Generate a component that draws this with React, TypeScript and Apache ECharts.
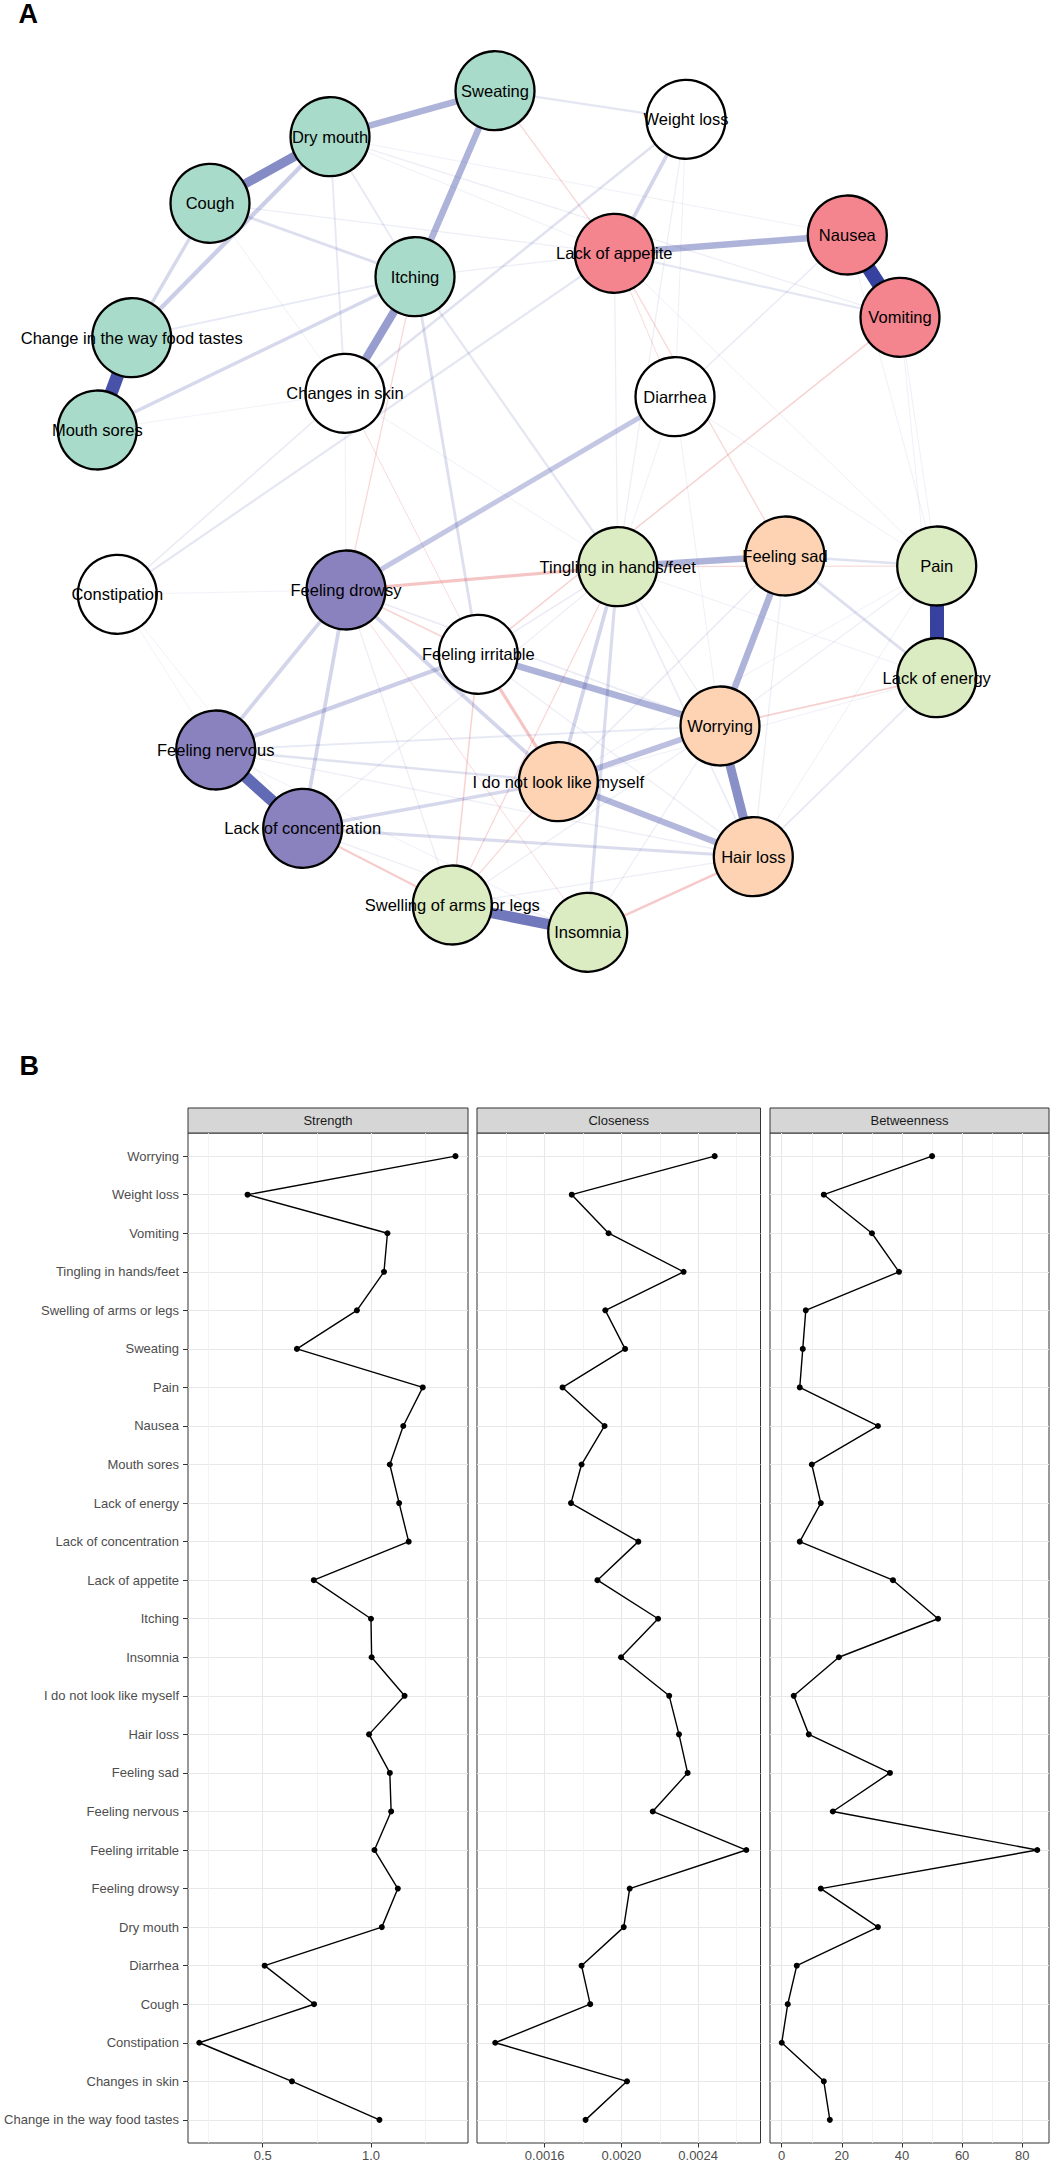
import React, { useEffect, useRef } from "react";
import * as echarts from "echarts";

const FONT = "'Liberation Sans', Arial, Helvetica, sans-serif";

// ---------- Panel A : network ----------
const nodeNames = [
  "Sweating", "Weight loss", "Dry mouth", "Cough", "Lack of appetite", "Nausea",
  "Vomiting", "Itching", "Change in the way food tastes", "Changes in skin", "Diarrhea",
  "Mouth sores", "Constipation", "Feeling drowsy", "Tingling in hands/feet", "Feeling sad",
  "Pain", "Feeling irritable", "Lack of energy", "Worrying", "Feeling nervous",
  "I do not look like myself", "Lack of concentration", "Hair loss",
  "Swelling of arms or legs", "Insomnia",
];
// layout coordinates of the network (qgraph layout)
const nodeX = [495, 686, 330, 210, 614.3, 847.3, 900, 415, 131.7, 345, 675, 97.3, 117.3, 346, 617.7, 785, 936.7, 478.3, 936.7, 720, 215.7, 558.3, 302.7, 753.3, 452.3, 587.7];
const nodeY = [90.7, 119.3, 136.7, 203.3, 253.3, 235, 317.3, 276.7, 337.7, 393.3, 396.7, 430, 594.3, 590, 566.7, 556, 566, 654.3, 677.7, 726, 750, 781.7, 828.3, 856.7, 905, 932.3];
const nodeGroup = [
  "oral", "none", "oral", "oral", "gi", "gi", "gi", "oral", "oral", "none", "none",
  "oral", "none", "cog", "phys", "emo", "phys", "none", "phys", "emo", "cog",
  "emo", "cog", "emo", "phys", "phys",
];
// [from, to, partial correlation]
const edges: [number, number, number][] = [
  [5, 6, 0.45], [16, 18, 0.45], [8, 11, 0.42], [20, 22, 0.37], [24, 25, 0.34],
  [2, 3, 0.30], [19, 23, 0.29], [7, 9, 0.26], [0, 7, 0.21], [0, 2, 0.21],
  [4, 5, 0.21], [14, 15, 0.21], [15, 19, 0.21], [17, 19, 0.21], [21, 23, 0.20],
  [19, 21, 0.18], [10, 13, 0.16], [17, 20, 0.14], [2, 8, 0.14], [1, 4, 0.12],
  [13, 21, 0.12], [13, 20, 0.12], [13, 22, 0.12], [14, 21, 0.12], [3, 8, 0.11],
  [7, 11, 0.11], [21, 22, 0.11], [22, 23, 0.10], [14, 25, 0.10], [7, 17, 0.09],
  [3, 7, 0.09], [15, 18, 0.09], [1, 9, 0.08], [15, 16, 0.08], [20, 21, 0.08],
  [4, 12, 0.07], [7, 14, 0.07], [4, 6, 0.07], [0, 1, 0.07], [2, 9, 0.06],
  [2, 7, 0.06], [18, 23, 0.06], [19, 20, 0.06], [7, 8, 0.06], [9, 12, 0.05],
  [5, 10, 0.05], [15, 21, 0.05], [13, 19, 0.05], [14, 23, 0.05], [14, 17, 0.05],
  [3, 4, 0.04], [2, 6, 0.04], [4, 7, 0.04], [4, 14, 0.04], [1, 14, 0.04],
  [16, 19, 0.04], [15, 23, 0.04], [23, 24, 0.04], [13, 24, 0.04], [22, 25, 0.04],
  [19, 24, 0.04], [19, 25, 0.04], [20, 23, 0.04], [14, 22, 0.04], [14, 19, 0.04],
  [17, 23, 0.04], [4, 16, 0.03], [10, 16, 0.03], [6, 18, 0.03], [16, 21, 0.03],
  [10, 14, 0.03], [10, 19, 0.03], [20, 25, 0.03], [9, 13, 0.03], [9, 14, 0.03],
  [2, 4, 0.03], [3, 9, 0.03], [9, 11, 0.02], [12, 20, 0.02], [12, 22, 0.02],
  [12, 13, 0.02], [18, 21, 0.03], [14, 18, 0.03], [16, 23, 0.03], [5, 16, 0.03],
  [6, 16, 0.03], [2, 5, 0.03], [1, 10, 0.03],
  [13, 14, -0.10], [17, 21, -0.10], [23, 25, -0.08], [22, 24, -0.07], [6, 17, -0.05],
  [18, 19, -0.06], [0, 4, -0.04], [4, 15, -0.04], [13, 17, -0.05], [14, 16, -0.04],
  [7, 13, -0.04], [17, 24, -0.05], [4, 10, -0.03], [14, 24, -0.04], [13, 25, -0.03],
  [9, 17, -0.03], [21, 24, -0.04],
];

// ---------- Panel B : centrality ----------
const categories = [
  "Worrying", "Weight loss", "Vomiting", "Tingling in hands/feet", "Swelling of arms or legs",
  "Sweating", "Pain", "Nausea", "Mouth sores", "Lack of energy", "Lack of concentration",
  "Lack of appetite", "Itching", "Insomnia", "I do not look like myself", "Hair loss",
  "Feeling sad", "Feeling nervous", "Feeling irritable", "Feeling drowsy", "Dry mouth",
  "Diarrhea", "Cough", "Constipation", "Changes in skin", "Change in the way food tastes",
];
const strength = [1.39, 0.43, 1.076, 1.06, 0.935, 0.658, 1.239, 1.149, 1.087, 1.13, 1.174, 0.736, 1.0, 1.003, 1.155, 0.991, 1.087, 1.093, 1.016, 1.124, 1.05, 0.509, 0.737, 0.207, 0.635, 1.039];
const closeness = [0.002486, 0.001741, 0.001933, 0.002324, 0.001916, 0.002019, 0.001693, 0.001912, 0.001792, 0.001737, 0.002088, 0.001875, 0.002191, 0.001998, 0.002249, 0.0023, 0.002345, 0.002163, 0.002651, 0.002043, 0.002012, 0.001792, 0.001837, 0.001342, 0.002029, 0.001813];
const betweenness = [50, 14, 30, 39, 8, 7, 6, 32, 10, 13, 6, 37, 52, 19, 4, 9, 36, 17, 85, 13, 32, 5, 2, 0, 14, 16];

const facetTitles = ["Strength", "Closeness", "Betweenness"];
const strengthTicks = [0.5, 1.0];
const strengthMinor = [0.25, 0.75, 1.25];
const closenessTicks = [0.0016, 0.002, 0.0024];
const closenessMinor = [0.0014, 0.0018, 0.0022, 0.0026];
const betweennessTicks = [0, 20, 40, 60, 80];
const betweennessMinor = [10, 30, 50, 70];

const groupColor: Record<string, string> = {
  oral: "#A8DBC9",
  gi: "#F4858F",
  cog: "#8A82BE",
  phys: "#DBEBC2",
  emo: "#FDD3B4",
  none: "#FFFFFF",
};

export default function App() {
  const ref = useRef<HTMLDivElement>(null);

  useEffect(() => {
    if (!ref.current) return;
    const chart = echarts.init(ref.current, undefined, { renderer: "svg" });

    const sorted = [...edges].sort((a, b) => Math.abs(a[2]) - Math.abs(b[2]));
    const links = sorted.map(([s, t, w]) => {
      const a = Math.abs(w) / 0.45;
      const width = Math.max(1, 14 * a);
      const alpha = w > 0 ? Math.min(1, 0.05 + 0.95 * Math.pow(a, 1.3)) : Math.min(1, 0.18 + 0.9 * a);
      const color = w > 0 ? `rgba(55,66,160,${alpha.toFixed(3)})` : `rgba(228,100,100,${alpha.toFixed(3)})`;
      return { source: s, target: t, lineStyle: { width, color, opacity: 1, curveness: 0 } };
    });

    const nodes = nodeNames.map((n, i) => ({
      name: n,
      value: [nodeX[i], nodeY[i]],
      itemStyle: { color: groupColor[nodeGroup[i]], borderColor: "#000", borderWidth: 2.3 },
    }));

    // facet layout
    const fTop = 1133;
    const fHeight = 1010;
    const fLeft = [188, 477, 770];
    const fWidth = [280, 283.5, 279];
    const ranges: [number, number][] = [[0.155, 1.448], [0.001247, 0.002725], [-3.9, 88.9]];
    const majors = [strengthTicks, closenessTicks, betweennessTicks];
    const minors = [strengthMinor, closenessMinor, betweennessMinor];
    const fmts = [
      (v: number) => v.toFixed(1),
      (v: number) => v.toFixed(4),
      (v: number) => String(Math.round(v)),
    ];
    const values = [strength, closeness, betweenness];
    const idx = categories.map((_, i) => i);

    const grids: any[] = [{ left: 0, top: 0, width: 1056, height: 1050, show: false }];
    const xAxes: any[] = [{ type: "value", gridIndex: 0, min: 0, max: 1056, show: false, axisLine: { onZero: false } }];
    const yAxes: any[] = [{ type: "value", gridIndex: 0, min: 0, max: 1050, inverse: true, show: false, axisLine: { onZero: false } }];
    const series: any[] = [
      {
        type: "graph",
        coordinateSystem: "cartesian2d",
        xAxisIndex: 0,
        yAxisIndex: 0,
        silent: true,
        emphasis: { disabled: true },
        symbol: "circle",
        symbolSize: 79,
        edgeSymbol: ["none", "none"],
        label: { show: true, position: "inside", color: "#000", fontSize: 16.5, fontFamily: FONT },
        lineStyle: { opacity: 1, curveness: 0 },
        data: nodes,
        links,
        z: 2,
      },
    ];
    const graphics: any[] = [
      { type: "text", x: 18.5, y: 14, style: { text: "A", font: `bold 27px ${FONT}`, fill: "#000", textAlign: "left", textVerticalAlign: "middle" } },
      { type: "text", x: 19.5, y: 1065.5, style: { text: "B", font: `bold 27px ${FONT}`, fill: "#000", textAlign: "left", textVerticalAlign: "middle" } },
    ];

    for (let f = 0; f < 3; f++) {
      const gi = f + 1;
      grids.push({
        left: fLeft[f], top: fTop, width: fWidth[f], height: fHeight,
        show: true, borderColor: "#333333", borderWidth: 1, backgroundColor: "#FFFFFF",
      });
      const majorIdx = xAxes.length;
      xAxes.push({
        type: "value", gridIndex: gi, min: ranges[f][0], max: ranges[f][1], position: "bottom",
        axisLine: { show: false, onZero: false },
        axisTick: { show: true, length: 4.5, customValues: majors[f], lineStyle: { color: "#333333", width: 1 } },
        axisLabel: {
          show: true, customValues: majors[f], formatter: fmts[f], color: "#4D4D4D",
          fontSize: 13, fontFamily: FONT, margin: 6,
        },
        splitLine: { show: true, lineStyle: { color: "#E8E8E8", width: 1.1 } },
      });
      xAxes.push({
        type: "value", gridIndex: gi, min: ranges[f][0], max: ranges[f][1], position: "top",
        axisLine: { show: false, onZero: false },
        axisTick: { show: false, customValues: minors[f] },
        axisLabel: { show: false },
        splitLine: { show: true, lineStyle: { color: "#F0F0F0", width: 0.8 } },
      });
      const yi = yAxes.length;
      yAxes.push({
        type: "value", gridIndex: gi, min: -0.6, max: 25.6, inverse: true, position: "left",
        axisLine: { show: false, onZero: false },
        axisTick: { show: f === 0, length: 5, customValues: idx, lineStyle: { color: "#333333", width: 1 } },
        axisLabel: {
          show: f === 0, customValues: idx, formatter: (v: number) => categories[Math.round(v)] ?? "",
          color: "#4D4D4D", fontSize: 13, fontFamily: FONT, margin: 9,
        },
        splitLine: { show: true, lineStyle: { color: "#E8E8E8", width: 1.1 } },
      });
      series.push({
        type: "line",
        xAxisIndex: majorIdx,
        yAxisIndex: yi,
        data: values[f].map((v, i) => [v, i]),
        symbol: "circle",
        symbolSize: 6,
        showSymbol: true,
        silent: true,
        itemStyle: { color: "#000" },
        lineStyle: { color: "#000", width: 1.4 },
        z: 3,
      });
      graphics.push({
        type: "rect",
        shape: { x: fLeft[f], y: 1108, width: fWidth[f], height: 25 },
        style: { fill: "#D6D6D6", stroke: "#333333", lineWidth: 1 },
      });
      graphics.push({
        type: "text",
        x: fLeft[f] + fWidth[f] / 2,
        y: 1120.5,
        style: {
          text: facetTitles[f], font: `13px ${FONT}`, fill: "#1A1A1A",
          textAlign: "center", textVerticalAlign: "middle",
        },
      });
    }

    chart.setOption({
      animation: false,
      backgroundColor: "#FFFFFF",
      grid: grids,
      xAxis: xAxes,
      yAxis: yAxes,
      series,
      graphic: graphics,
    });

    return () => chart.dispose();
  }, []);

  return (
    <div
      ref={ref}
      style={{ position: "absolute", left: 0, top: 0, width: 1056, height: 2162, background: "#fff" }}
    />
  );
}
